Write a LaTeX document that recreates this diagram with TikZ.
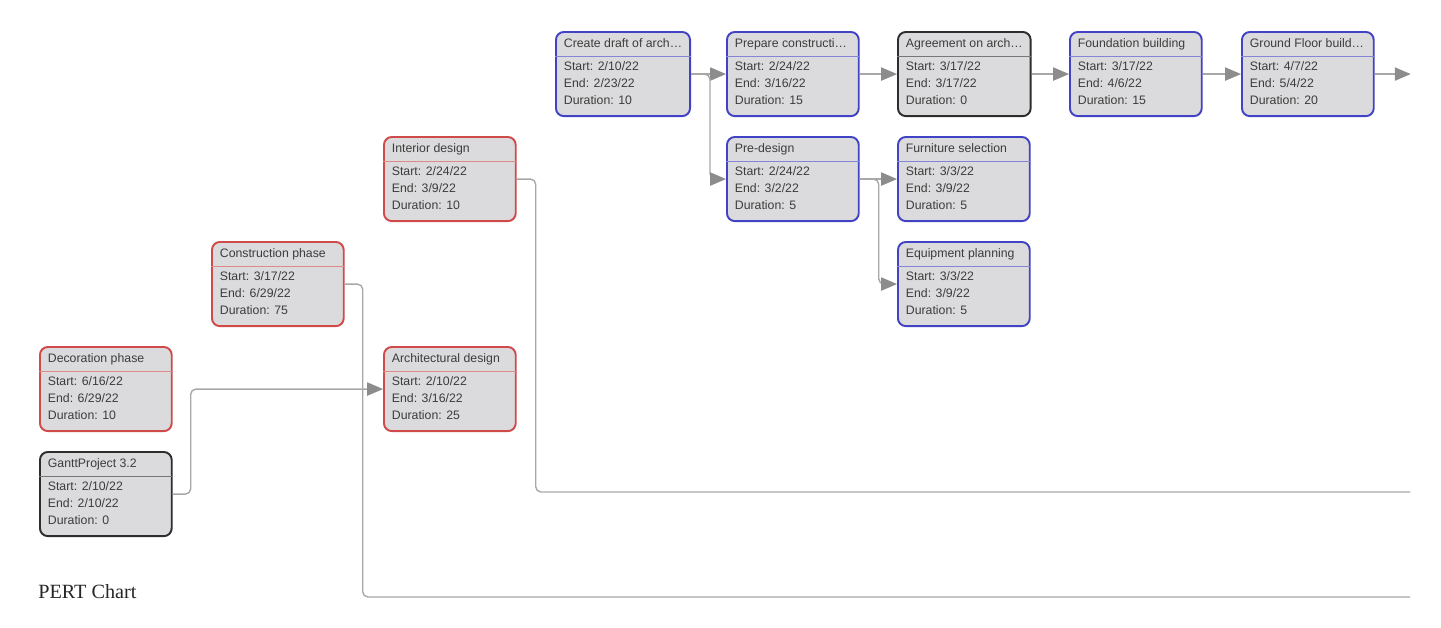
\documentclass[tikz,border=0pt]{standalone}
\usepackage{fontspec}
\setmainfont{Liberation Serif}
\newfontfamily\chartfont{Liberation Sans}
\usepackage{xcolor}
\usepackage{tikz}
\usetikzlibrary{arrows.meta,shapes.multipart}

\definecolor{boxfill}{RGB}{219,219,221}
\definecolor{critred}{RGB}{208,74,74}
\definecolor{taskblue}{RGB}{66,66,196}
\definecolor{mstone}{RGB}{45,45,45}
\definecolor{linkgray}{RGB}{168,168,168}
\definecolor{tipgray}{RGB}{140,140,140}
\definecolor{txt}{RGB}{60,60,60}

% second part of a task box: the three date lines
\newcommand\taskdates[3]{\nodepart{two}\rule{0pt}{5.8pt}Start: #1\\ End: #2\\ Duration: #3\rule[-4.6pt]{0pt}{4.6pt}}

\begin{document}
\begin{tikzpicture}[
  x=0.02cm, y=-0.02cm,
  task/.style={rectangle split, rectangle split parts=2, rectangle split draw splits=false,
    rectangle split part align={left}, draw=#1, line width=1.1pt, rounded corners=4.5pt,
    fill=boxfill, anchor=north west, minimum width=75pt, inner xsep=4.5pt, inner ysep=1.6pt,
    align=left, text=txt, font=\chartfont\fontsize{7}{9.7}\selectfont,
    execute at begin node=\rule[-2.8pt]{0pt}{9.5pt}},
  task/.default=taskblue,
  link/.style={linkgray, line width=0.8pt, rounded corners=3pt},
  arrow/.style={link, -{Triangle[length=9pt,width=7.5pt,fill=tipgray,color=tipgray]}}
]
\useasboundingbox (0,0) rectangle (1441,627);

% top chain
\node[task] (draft) at (555,31) {Create draft of arch\ldots \taskdates{2/10/22}{2/23/22}{10}};
\node[task] (prep) at (726,31) {Prepare constructi\ldots \taskdates{2/24/22}{3/16/22}{15}};
\node[task=mstone] (agree) at (897,31) {Agreement on arch\ldots \taskdates{3/17/22}{3/17/22}{0}};
\node[task] (found) at (1069,31) {Foundation building \taskdates{3/17/22}{4/6/22}{15}};
\node[task] (ground) at (1241,31) {Ground Floor build\ldots \taskdates{4/7/22}{5/4/22}{20}};

% design branch
\node[task] (predes) at (726,136) {Pre-design \taskdates{2/24/22}{3/2/22}{5}};
\node[task] (furn) at (897,136) {Furniture selection \taskdates{3/3/22}{3/9/22}{5}};
\node[task] (equip) at (897,241) {Equipment planning \taskdates{3/3/22}{3/9/22}{5}};

% phases
\node[task=critred] (interior) at (383,136) {Interior design \taskdates{2/24/22}{3/9/22}{10}};
\node[task=critred] (construct) at (211,241) {Construction phase \taskdates{3/17/22}{6/29/22}{75}};
\node[task=critred] (decor) at (39,346) {Decoration phase \taskdates{6/16/22}{6/29/22}{10}};
\node[task=critred] (archd) at (383,346) {Architectural design \taskdates{2/10/22}{3/16/22}{25}};
\node[task=mstone] (gantt) at (39,451) {GanttProject 3.2 \taskdates{2/10/22}{2/10/22}{0}};

\foreach \n/\c in {draft/taskblue, prep/taskblue, agree/mstone, found/taskblue, ground/taskblue,
  predes/taskblue, furn/taskblue, equip/taskblue, interior/critred, construct/critred,
  decor/critred, archd/critred, gantt/mstone}
  \draw[\c!65, line width=0.6pt] (\n.one split west) -- (\n.one split east);

\coordinate (endA) at (1410,492);
\coordinate (endB) at (1410,597);
\path (ground.east) ++(36,0) coordinate (endC);

\draw[arrow] (gantt.east) -- ++(18,0) |- (archd.west);
\draw[link] (construct.east) -- ++(18,0) |- (endB);
\draw[link] (interior.east) -- ++(19,0) |- (endA);
\draw[arrow] (draft) -- (prep);
\draw[arrow] (draft.east) -- ++(19,0) |- (predes.west);
\draw[arrow] (prep) -- (agree);
\draw[arrow] (agree) -- (found);
\draw[arrow] (found) -- (ground);
\draw[arrow] (ground.east) -- (endC);
\draw[arrow] (predes) -- (furn);
\draw[arrow] (predes.east) -- ++(19,0) |- (equip.west);

\node[anchor=base west, inner sep=0pt, text=black!85, font=\fontsize{11.5}{14}\selectfont] (caption) at (38,598) {PERT Chart};
\end{tikzpicture}
\end{document}
